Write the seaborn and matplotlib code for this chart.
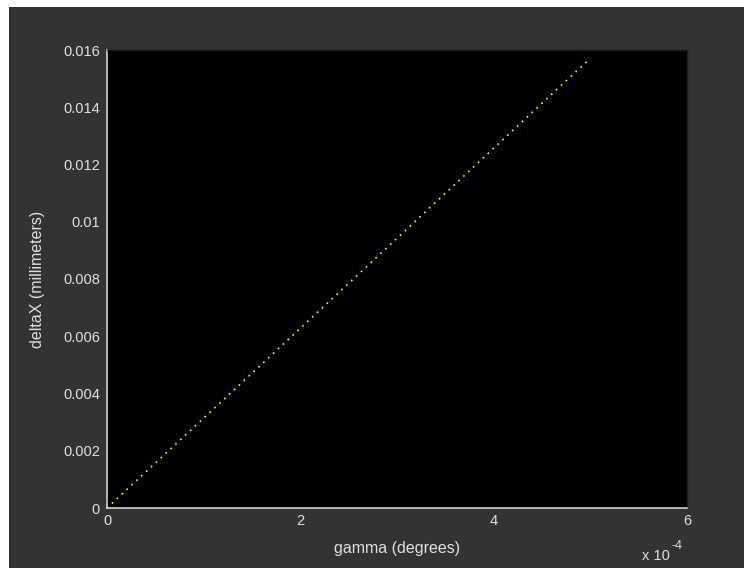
import matplotlib
matplotlib.use("Agg")
import matplotlib.pyplot as plt
import pandas as pd
import seaborn as sns
from matplotlib.patches import Rectangle

# values
gamma_deg = [0.0, 1e-4, 2e-4, 3e-4, 4e-4, 5e-4]
delta_x_mm = [0.0, 0.00314, 0.00628, 0.00942, 0.01257, 0.01571]
x_ticks = [0, 2e-4, 4e-4, 6e-4]
x_tick_labels = ['0', '2', '4', '6']
y_ticks = [0, 0.002, 0.004, 0.006, 0.008, 0.01, 0.012, 0.014, 0.016]
y_tick_labels = ['0', '0.002', '0.004', '0.006', '0.008', '0.01', '0.012', '0.014', '0.016']

df = pd.DataFrame({'gamma': gamma_deg, 'deltaX': delta_x_mm})

sns.set_style('dark')
plt.rcParams['font.family'] = ['Liberation Sans', 'DejaVu Sans']

fig = plt.figure(figsize=(7.44, 5.68), dpi=100, facecolor='white')
# gray window area (white strip on left and top)
fig.patches.append(Rectangle((9 / 744, 0), 1, 1 - 7 / 568, transform=fig.transFigure,
                             facecolor='#333333', edgecolor='none', zorder=-10))

ax = fig.add_axes([107 / 744, 60 / 568, 580 / 744, 458 / 568])
ax.set_facecolor('black')
sns.lineplot(data=df, x='gamma', y='deltaX', ax=ax, color='#ffff00',
             linestyle=(0, (1, 3)), linewidth=1.2)

ax.set_xlim(0, 6e-4)
ax.set_ylim(0, 0.016)
ax.set_xticks(x_ticks)
ax.set_xticklabels(x_tick_labels)
ax.set_yticks(y_ticks)
ax.set_yticklabels(y_tick_labels)
ax.grid(False)

ax.tick_params(axis='both', direction='in', length=6, width=1, color='#d8d8d8',
               labelcolor='#e0e0e0', labelsize=10.5)
ax.tick_params(axis='x', pad=4)
ax.tick_params(axis='y', pad=5)
for side in ['left', 'bottom']:
    ax.spines[side].set_color('#d0d0d0')
    ax.spines[side].set_linewidth(1.2)
for side in ['top', 'right']:
    ax.spines[side].set_color('#1a1a1a')
    ax.spines[side].set_linewidth(1)

ax.set_xlabel('gamma (degrees)', color='#e0e0e0', fontsize=11.5, labelpad=10)
ax.set_ylabel('deltaX (millimeters)', color='#e0e0e0', fontsize=11.5, labelpad=13)

fig.text(642 / 744, 1 - 556 / 568, 'x 10', color='#e0e0e0', fontsize=10.5,
         va='center', ha='left')
fig.text(671 / 744, 1 - 546 / 568, '-4', color='#e0e0e0', fontsize=9,
         va='center', ha='left')

fig.savefig('out.png', dpi=100, facecolor=fig.get_facecolor())
